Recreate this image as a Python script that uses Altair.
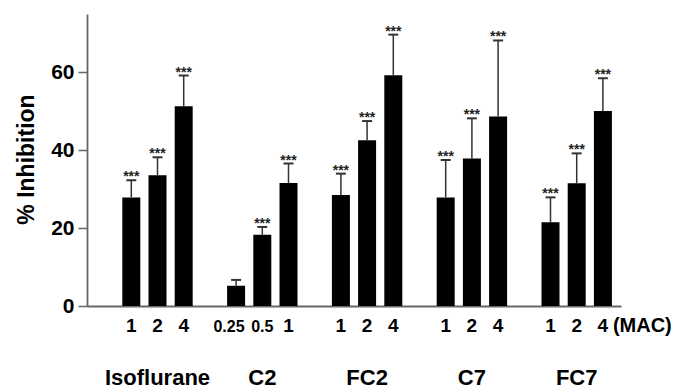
import altair as alt
import pandas as pd

groups = ["Isoflurane", "C2", "FC2", "C7", "FC7"]
doses = [["1", "2", "4"], ["0.25", "0.5", "1"], ["1", "2", "4"], ["1", "2", "4"], ["1", "2", "4"]]
means = [27.9, 33.6, 51.3, 5.2, 18.3, 31.6, 28.5, 42.6, 59.3, 27.9, 37.9, 48.7, 21.5, 31.5, 50.1]
errs = [4.4, 4.6, 7.9, 1.5, 2.0, 5.0, 5.5, 4.9, 10.4, 9.6, 10.3, 19.5, 6.4, 7.7, 8.4]
sig = ["***", "***", "***", "", "***", "***", "***", "***", "***", "***", "***", "***", "***", "***", "***"]
unit_label = "(MAC)"

rows = []
k = 0
for gi, g in enumerate(groups):
    for di, d in enumerate(doses[gi]):
        rows.append({"group": g, "dose": d, "slot": gi * 4 + di,
                     "mean": means[k], "top": means[k] + errs[k], "sig": sig[k]})
        k += 1
df = pd.DataFrame(rows)
gdf = pd.DataFrame({"group": groups, "slot": [gi * 4 + 1 for gi in range(len(groups))]})
mdf = pd.DataFrame({"label": [unit_label], "slot": [df["slot"].max()]})

FONT = "Liberation Sans"
xs = alt.Scale(domain=[-1.5, 18.5], nice=False, zero=False)
ys = alt.Scale(domain=[0, 75], nice=False)

base = alt.Chart(df)

bars = base.mark_bar(size=18, color="black").encode(
    x=alt.X("slot:Q", scale=xs,
            axis=alt.Axis(labels=False, ticks=False, title=None, grid=False,
                          domainColor="#666", domainWidth=1.8)),
    y=alt.Y("mean:Q", scale=ys,
            axis=alt.Axis(values=[0, 20, 40, 60], title="% Inhibition", grid=False,
                          domainColor="#666", domainWidth=1.8, tickColor="#666",
                          tickWidth=1.5, tickSize=9, labelPadding=4,
                          labelFont=FONT, labelFontSize=21, labelFontWeight="bold",
                          labelColor="black",
                          titleFont=FONT, titleFontSize=23, titleFontWeight="bold",
                          titleColor="black", titleAngle=270, titleAlign="center",
                          titleBaseline="middle", titleX=-61, titleY=145)),
)

err = base.mark_rule(color="#333", strokeWidth=1.5).encode(
    x="slot:Q", y="mean:Q", y2="top:Q")

cap = base.mark_rule(color="#333", strokeWidth=2, xOffset=-5, x2Offset=5).encode(
    x="slot:Q", x2="slot:Q", y="top:Q")

stars = base.mark_text(font=FONT, fontSize=14, fontWeight="bold", color="#222",
                       baseline="alphabetic", dy=1).encode(
    x="slot:Q", y="top:Q", text="sig:N")

dose_big = base.transform_filter("length(datum.dose) == 1").mark_text(
    font=FONT, fontSize=19, fontWeight="bold", color="black", baseline="alphabetic").encode(
    x="slot:Q", y=alt.value(318), text="dose:N")

dose_small = base.transform_filter("length(datum.dose) > 1").transform_calculate(
    lx="datum.slot + (datum.dose == '0.25' ? -0.27 : 0)").mark_text(
    font=FONT, fontSize=16, fontWeight="bold", color="black", baseline="alphabetic").encode(
    x="lx:Q", y=alt.value(318), text="dose:N")

grp_lbl = alt.Chart(gdf).mark_text(font=FONT, fontSize=22, fontWeight="bold",
                                   color="black", baseline="alphabetic").encode(
    x=alt.X("slot:Q", scale=xs), y=alt.value(371), text="group:N")

mac = alt.Chart(mdf).mark_text(font=FONT, fontSize=20, fontWeight="bold", color="black",
                               baseline="alphabetic", align="left", dx=10).encode(
    x=alt.X("slot:Q", scale=xs), y=alt.value(318), text="label:N")

chart = alt.layer(bars, err, cap, stars, dose_big, dose_small, grp_lbl, mac).properties(
    width=534, height=292,
    autosize=alt.AutoSizeParams(type="none"),
    padding={"left": 79, "top": 6, "right": 52, "bottom": 83},
).configure_view(stroke=None)

chart.save("out.html", embed_options={"renderer": "svg", "actions": False})
